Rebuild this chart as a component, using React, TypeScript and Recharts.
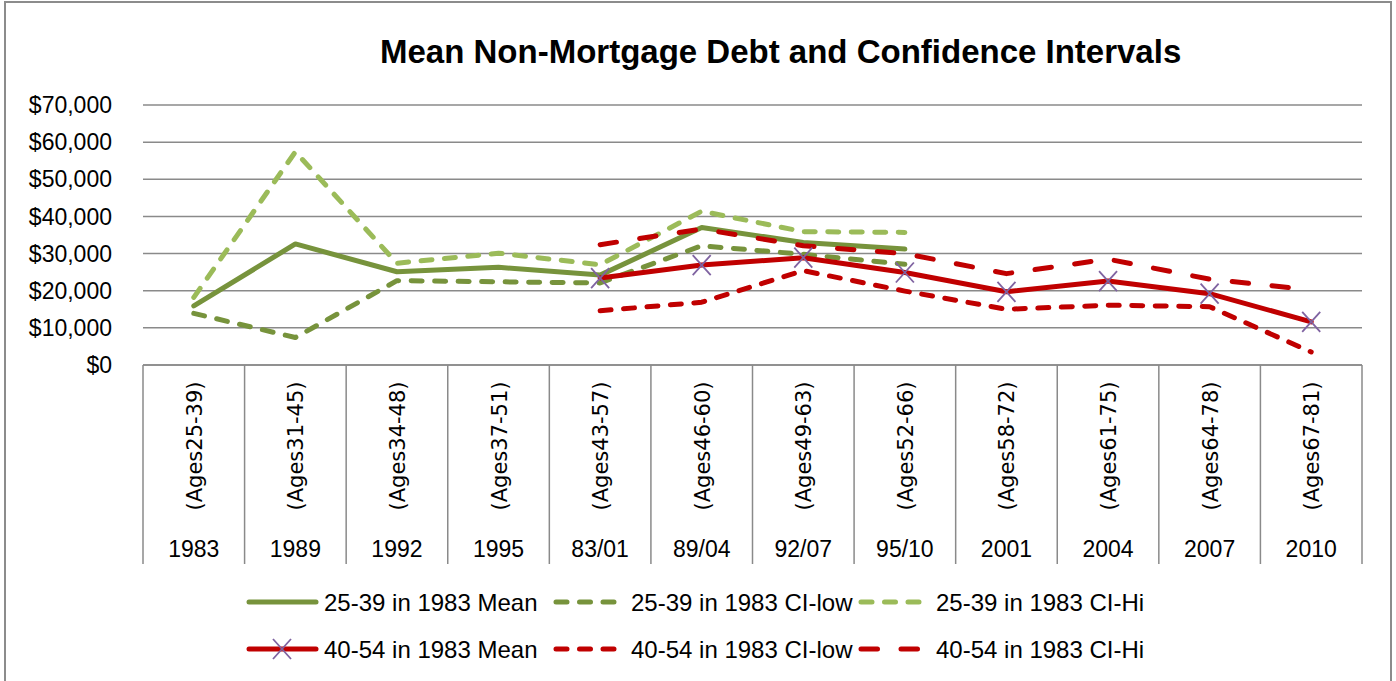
import React from "react";
import { ComposedChart, Line, XAxis, YAxis, CartesianGrid, Legend } from "recharts";

// survey years / category labels
const YEARS = ["1983", "1989", "1992", "1995", "83/01", "89/04", "92/07", "95/10", "2001", "2004", "2007", "2010"];
const AGES = [
  "(Ages25-39)", "(Ages31-45)", "(Ages34-48)", "(Ages37-51)", "(Ages43-57)", "(Ages46-60)",
  "(Ages49-63)", "(Ages52-66)", "(Ages58-72)", "(Ages61-75)", "(Ages64-78)", "(Ages67-81)",
];

// cohort 25-39 in 1983
const MEAN_25_39 = [15900, 32600, 25100, 26300, 24200, 37000, 33000, 31200, null, null, null, null];
const LOW_25_39 = [13900, 7400, 22700, 22400, 22100, 32100, 29800, 27100, null, null, null, null];
const HI_25_39 = [18200, 57400, 27400, 30100, 27000, 41400, 35900, 35700, null, null, null, null];

// cohort 40-54 in 1983
const MEAN_40_54 = [null, null, null, null, 23400, 26900, 28900, 24900, 19700, 22600, 19200, 11600];
const LOW_40_54 = [null, null, null, null, 14600, 16900, 25400, 19900, 15000, 16100, 15700, 3500];
const HI_40_54 = [null, null, null, null, 32400, 36600, 32100, 30000, 24600, 28500, 23100, 20200];

const Y_TICKS = [0, 10000, 20000, 30000, 40000, 50000, 60000, 70000];

const FONT = "'Liberation Sans', Arial, sans-serif";
const GRID = "#8a8a8a";
const GREEN = "#77933C";
const LIGHT_GREEN = "#9BBB59";
const RED = "#C00000";
const PURPLE = "#7F63A1";

const W = 1396;
const H = 681;
const LEFT = 143;
const RIGHT = 34;
const BAND = (W - LEFT - RIGHT) / YEARS.length;

const rows = YEARS.map((year, i) => ({
  year,
  m1: MEAN_25_39[i],
  l1: LOW_25_39[i],
  h1: HI_25_39[i],
  m2: MEAN_40_54[i],
  l2: LOW_40_54[i],
  h2: HI_40_54[i],
}));

const SHORT_DASH = "11 12.5";
const LONG_DASH = "16.5 23.5";

const SERIES = [
  { key: "m1", name: "25-39 in 1983 Mean", color: GREEN, dash: undefined, mark: false },
  { key: "l1", name: "25-39 in 1983 CI-low", color: GREEN, dash: SHORT_DASH, mark: false },
  { key: "h1", name: "25-39 in 1983 CI-Hi", color: LIGHT_GREEN, dash: SHORT_DASH, mark: false },
  { key: "m2", name: "40-54 in 1983 Mean", color: RED, dash: undefined, mark: true },
  { key: "l2", name: "40-54 in 1983 CI-low", color: RED, dash: SHORT_DASH, mark: false },
  { key: "h2", name: "40-54 in 1983 CI-Hi", color: RED, dash: LONG_DASH, mark: false },
];

const XMark = ({ cx, cy }: { cx: number; cy: number }) => (
  <g stroke={PURPLE} strokeWidth={1.8}>
    <line x1={cx - 9} y1={cy - 10} x2={cx + 9} y2={cy + 10} />
    <line x1={cx - 9} y1={cy + 10} x2={cx + 9} y2={cy - 10} />
  </g>
);

const renderDot = (p: any) => {
  if (p.cx == null || p.cy == null || p.value == null) return <g key={`d-${p.index}`} />;
  return (
    <g key={`d-${p.index}`}>
      <XMark cx={p.cx} cy={p.cy} />
    </g>
  );
};

// two-level category axis: rotated age range above, survey year below
const CategoryTick = (props: any) => {
  const { x, y, payload } = props;
  const i = payload.index;
  const half = payload.offset || BAND / 2;
  return (
    <g>
      <line x1={x - half} x2={x - half} y1={y} y2={y + 199} stroke={GRID} strokeWidth={1.5} />
      {i === YEARS.length - 1 && (
        <line x1={x + half} x2={x + half} y1={y} y2={y + 199} stroke={GRID} strokeWidth={1.5} />
      )}
      <text
        transform={`translate(${x + 8},${y + 81}) rotate(-90)`}
        textAnchor="middle"
        fontFamily="'DejaVu Sans', sans-serif"
        fontSize={21}
        fill="#000"
      >
        {AGES[i]}
      </text>
      <text x={x} y={y + 192} textAnchor="middle" fontSize={23} fill="#000">
        {payload.value}
      </text>
    </g>
  );
};

const LEGEND_X = [246, 553, 858];
const LEGEND_Y = [37, 84];

const renderLegend = () => (
  <svg width={W} height={99} style={{ display: "block" }}>
    {SERIES.map((s, i) => {
      const x = LEGEND_X[i % 3];
      const y = LEGEND_Y[Math.floor(i / 3)];
      return (
        <g key={s.key}>
          <line
            x1={x + 3}
            x2={x + 70}
            y1={y}
            y2={y}
            stroke={s.color}
            strokeWidth={5}
            strokeLinecap="round"
            strokeDasharray={s.dash}
          />
          {s.mark && <XMark cx={x + 36} cy={y} />}
          <text x={x + 78} y={y} dominantBaseline="central" fontSize={24} fill="#000">
            {s.name}
          </text>
        </g>
      );
    })}
  </svg>
);

const money = (v: number) => "$" + v.toLocaleString("en-US");

export default function App() {
  return (
    <div style={{ position: "absolute", left: 0, top: 0, width: W, height: H, background: "#fff", fontFamily: FONT, overflow: "hidden" }}>
      <div
        style={{
          position: "absolute",
          left: 4,
          top: 1,
          width: 1388,
          height: 720,
          border: "2px solid #8c8c8c",
          boxSizing: "border-box",
        }}
      />
      <div
        style={{
          position: "absolute",
          left: 380,
          top: 35,
          width: 800,
          textAlign: "center",
          fontSize: 33,
          lineHeight: "33px",
          fontWeight: "bold",
          whiteSpace: "nowrap",
          color: "#000",
        }}
      >
        Mean Non-Mortgage Debt and Confidence Intervals
      </div>
      <ComposedChart width={W} height={H} data={rows} margin={{ top: 105, right: RIGHT, bottom: 17, left: 0 }}>
        <CartesianGrid vertical={false} stroke={GRID} strokeWidth={1.5} />
        <XAxis
          dataKey="year"
          scale="band"
          interval={0}
          height={200}
          tickLine={false}
          tickSize={0}
          tickMargin={0}
          axisLine={{ stroke: GRID, strokeWidth: 1.5 }}
          tick={<CategoryTick />}
        />
        <YAxis
          domain={[0, 70000]}
          ticks={Y_TICKS}
          width={LEFT}
          axisLine={false}
          tickLine={false}
          tickSize={0}
          tickMargin={31}
          tick={{ fill: "#000", fontSize: 23 }}
          tickFormatter={money}
        />
        <Legend verticalAlign="bottom" content={renderLegend} wrapperStyle={{ left: 0, width: W }} />
        {SERIES.map((s) => (
          <Line
            key={s.key}
            dataKey={s.key}
            name={s.name}
            type="linear"
            stroke={s.color}
            strokeWidth={5}
            strokeDasharray={s.dash}
            strokeLinecap="round"
            strokeLinejoin="round"
            dot={s.mark ? renderDot : false}
            activeDot={false}
            isAnimationActive={false}
          />
        ))}
      </ComposedChart>
    </div>
  );
}
